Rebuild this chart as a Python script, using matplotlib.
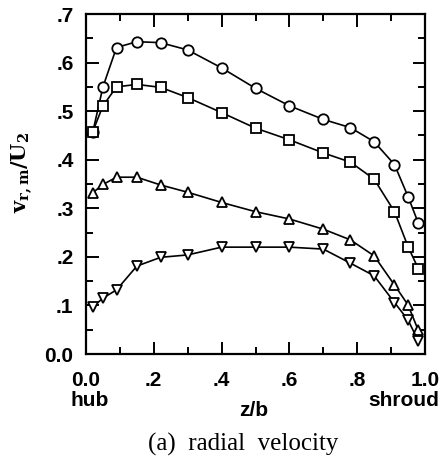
import matplotlib
matplotlib.use("Agg")
import matplotlib.pyplot as plt
from matplotlib.ticker import MultipleLocator, FixedLocator

z = [0.02, 0.05, 0.09, 0.15, 0.22, 0.30, 0.40, 0.50, 0.60, 0.70, 0.78, 0.85, 0.91, 0.95, 0.98]
circles = [0.457, 0.550, 0.631, 0.643, 0.641, 0.626, 0.589, 0.547, 0.511, 0.483, 0.466, 0.437, 0.390, 0.324, 0.270]
squares = [0.458, 0.511, 0.550, 0.555, 0.549, 0.528, 0.497, 0.465, 0.441, 0.414, 0.395, 0.360, 0.293, 0.221, 0.176]
tri_up = [0.332, 0.349, 0.364, 0.364, 0.348, 0.333, 0.312, 0.293, 0.278, 0.257, 0.235, 0.202, 0.142, 0.101, 0.049]
tri_down = [0.097, 0.115, 0.132, 0.181, 0.199, 0.204, 0.220, 0.220, 0.220, 0.216, 0.187, 0.161, 0.106, 0.070, 0.027]

xticks = [0.0, 0.2, 0.4, 0.6, 0.8, 1.0]
xticklabels = ["0.0", ".2", ".4", ".6", ".8", "1.0"]
yticks = [0.0, 0.1, 0.2, 0.3, 0.4, 0.5, 0.6, 0.7]
yticklabels = ["0.0", ".1", ".2", ".3", ".4", ".5", ".6", ".7"]

fig = plt.figure(figsize=(4.47, 4.59), dpi=100)
ax = fig.add_axes([86/447, 1 - 354/459, (425-86)/447, (354-14)/459])

series = [(circles, 'o'), (squares, 's'), (tri_up, '^'), (tri_down, 'v')]
for vals, m in series:
    ax.plot(z, vals, color='black', lw=1.2, marker=m, ms=7.5 if m in 'o^v' else 7,
            mfc='white', mec='black', mew=1.3, clip_on=False, zorder=3)

ax.set_xlim(0, 1.0)
ax.set_ylim(0, 0.7)
ax.xaxis.set_major_locator(FixedLocator(xticks))
ax.xaxis.set_minor_locator(MultipleLocator(0.1))
ax.yaxis.set_major_locator(FixedLocator(yticks))
ax.yaxis.set_minor_locator(MultipleLocator(0.05))
ax.set_xticklabels(xticklabels)
ax.set_yticklabels(yticklabels)

for sp in ax.spines.values():
    sp.set_linewidth(1.6)

ax.tick_params(which='both', direction='in', top=True, right=True, width=1.4)
ax.tick_params(which='major', length=9)
ax.tick_params(which='minor', length=5)
ax.tick_params(axis='x', which='major', pad=12)
ax.tick_params(axis='y', which='major', pad=9)
for lab in ax.get_xticklabels() + ax.get_yticklabels():
    lab.set_fontfamily('Liberation Sans')
    lab.set_fontweight('bold')
    lab.set_fontsize(15)

fig.text(90/447, 1 - 401/459, "hub", ha='center', va='center',
         fontfamily='Liberation Sans', fontweight='bold', fontsize=15)
fig.text(404/447, 1 - 401/459, "shroud", ha='center', va='center',
         fontfamily='Liberation Sans', fontweight='bold', fontsize=15)
fig.text(254/447, 1 - 411/459, "z/b", ha='center', va='center',
         fontfamily='Liberation Sans', fontweight='bold', fontsize=15)
fig.text(243/447, 1 - 444/459, "(a)  radial  velocity", ha='center', va='center',
         fontfamily='Liberation Serif', fontsize=18)
fig.text(22/447, 1 - 172/459, r"$\mathbf{v_{r,m}/U_2}$", ha='center', va='center',
         rotation=90, fontsize=15, math_fontfamily='dejavuserif')

fig.savefig("out.png", dpi=100)
